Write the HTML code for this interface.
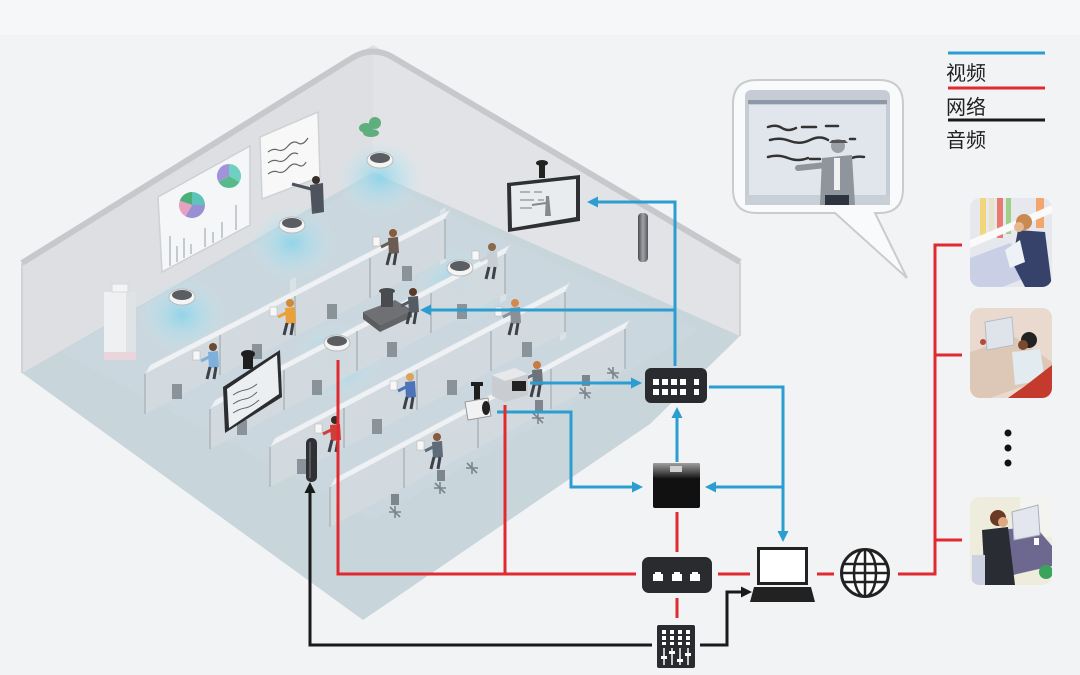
<!DOCTYPE html>
<html><head><meta charset="utf-8">
<style>
html,body{margin:0;padding:0;background:#f2f3f5;}
svg{display:block}
text{font-family:"Liberation Sans","Noto Sans CJK SC",sans-serif;}
</style></head><body>
<svg width="1080" height="675" viewBox="0 0 1080 675" xmlns="http://www.w3.org/2000/svg">
<defs>
 <radialGradient id="glow" cx="50%" cy="50%" r="50%">
  <stop offset="0" stop-color="#7fd3ec" stop-opacity="0.75"/>
  <stop offset="0.55" stop-color="#a8e0f0" stop-opacity="0.4"/>
  <stop offset="1" stop-color="#c5e9f3" stop-opacity="0"/>
 </radialGradient>
 <linearGradient id="nvr" x1="0" y1="0" x2="0" y2="1"><stop offset="0" stop-color="#a0a0a0"/><stop offset="1" stop-color="#1a1a1a"/></linearGradient>
 <linearGradient id="col" x1="0" x2="1"><stop offset="0" stop-color="#4a4c50"/><stop offset="0.5" stop-color="#a0a3a8"/><stop offset="1" stop-color="#55575b"/></linearGradient>
 <clipPath id="c1"><rect x="970" y="198" width="82" height="89" rx="10"/></clipPath>
 <clipPath id="c2"><rect x="970" y="308" width="82" height="90" rx="10"/></clipPath>
 <clipPath id="c3"><rect x="970" y="497" width="82" height="88" rx="10"/></clipPath>
 <clipPath id="cg"><circle cx="865" cy="573" r="23"/></clipPath>
</defs>

<!-- background -->
<rect x="0" y="0" width="1080" height="675" fill="#f2f3f5"/>
<rect x="0" y="0" width="1080" height="35" fill="#f5f7f8"/>

<!-- room walls and floor -->
<polygon points="22,263 373,45 373,172 22,373" fill="#dedfe2"/>
<polygon points="373,45 740,262 740,336 373,172" fill="#e2e3e6"/>
<polygon points="22,373 373,172 740,336 650,424 363,620" fill="#c8d5db"/>
<polygon points="60,352 373,178 700,330 373,520" fill="#cdd9df" opacity="0.6"/>
<path d="M22,263 L352,58 Q373,45 394,58 L740,262" fill="none" stroke="#c6c8cb" stroke-width="6" stroke-linejoin="round"/>
<line x1="22" y1="263" x2="22" y2="373" stroke="#d0d2d5" stroke-width="2"/>
<line x1="740" y1="262" x2="740" y2="336" stroke="#d0d2d5" stroke-width="2"/>

<!-- wall decor: chart panel -->
<polygon points="158,197 250,146 250,225 162,272" fill="#f5f6f8" stroke="#cdd0d4" stroke-width="1.5"/>
<path d="M192,205 L192,192 A13,13 0 0 1 205,205 Z" fill="#5cc4b8"/>
<path d="M192,205 L205,205 A13,13 0 0 1 185.5,216.3 Z" fill="#9b8fd4"/>
<path d="M192,205 L185.5,216.3 A13,13 0 0 1 179.8,200.6 Z" fill="#e8a0c0"/>
<path d="M192,205 L179.8,200.6 A13,13 0 0 1 192,192 Z" fill="#4caf7a"/>
<path d="M229,176 L229,164 A12,12 0 0 1 239.4,182 Z" fill="#6fcfc0"/>
<path d="M229,176 L239.4,182 A12,12 0 0 1 218.6,182 Z" fill="#58b98a"/>
<path d="M229,176 L218.6,182 A12,12 0 0 1 229,164 Z" fill="#a193d9"/>
<g stroke="#b5bcc2" stroke-width="1.5">
 <line x1="170" y1="266" x2="170" y2="236"/><line x1="177" y1="262" x2="177" y2="246"/>
 <line x1="184" y1="258" x2="184" y2="238"/><line x1="191" y1="254" x2="191" y2="244"/>
 <line x1="205" y1="247" x2="205" y2="228"/><line x1="213" y1="243" x2="213" y2="232"/>
 <line x1="222" y1="238" x2="222" y2="222"/><line x1="236" y1="230" x2="236" y2="205"/>
</g>
<!-- whiteboard -->
<polygon points="260,137 318,112 320,177 262,199" fill="#f8f8f9" stroke="#cfd2d5" stroke-width="1.5"/>
<g stroke="#666" stroke-width="1.2" fill="none">
 <path d="M268,152 q5,-4 10,-2 t10,-4 t10,-3 t10,-5"/>
 <path d="M268,163 q5,-4 10,-2 t10,-4 t10,-3"/>
 <path d="M268,174 q5,-4 10,-2 t10,-4 t10,-3 t8,-3"/>
</g>
<!-- teacher -->
<circle cx="316" cy="180" r="4" fill="#3a2e2a"/>
<polygon points="310,185 323,183 324,212 312,214" fill="#4e545e"/>
<line x1="311" y1="189" x2="292" y2="184" stroke="#4e545e" stroke-width="3"/>
<!-- plant -->
<g fill="#5fae7d"><ellipse cx="366" cy="128" rx="7" ry="5"/><ellipse cx="375" cy="123" rx="6" ry="6"/><ellipse cx="371" cy="133" rx="8" ry="4"/></g>
<!-- cabinet -->
<rect x="104" y="292" width="32" height="68" fill="#eef0f2"/>
<rect x="126" y="292" width="10" height="68" fill="#e0e3e6"/>
<rect x="104" y="352" width="32" height="8" fill="#e9d6dc"/>
<rect x="112" y="284" width="16" height="8" fill="#f3f4f6" stroke="#d6d8db"/>

<!-- right wall TV -->
<rect x="539" y="165" width="6" height="13" fill="#222"/>
<ellipse cx="542" cy="163" rx="6" ry="3" fill="#222"/>
<polygon points="507,183 580,175 580,221 508,232" fill="#2f3033"/>
<polygon points="511,186 576,179 576,217 512,228" fill="#e9ecef"/>
<g stroke="#777" stroke-width="1" fill="none"><path d="M520,192 h10 m4,0 h8"/><path d="M520,200 h14 m4,0 h6"/><path d="M520,208 h12"/></g>
<path d="M546,196 l3,0 l2,20 l-6,0 z" fill="#888"/><line x1="546" y1="203" x2="532" y2="205" stroke="#888" stroke-width="2"/>
<!-- speaker column right -->
<rect x="638" y="213" width="10" height="49" rx="4" fill="url(#col)"/>

<!-- glows -->
<ellipse cx="380" cy="178" rx="44" ry="38" fill="url(#glow)"/>
<ellipse cx="292" cy="243" rx="44" ry="38" fill="url(#glow)"/>
<ellipse cx="182" cy="315" rx="44" ry="38" fill="url(#glow)"/>
<ellipse cx="460" cy="286" rx="44" ry="38" fill="url(#glow)"/>
<ellipse cx="337" cy="361" rx="44" ry="38" fill="url(#glow)"/>

<!-- glass partitions -->
<g fill="#e6ecef" opacity="0.55">
 <polygon points="290,280 296,277 296,330 290,333"/>
 <polygon points="440,210 446,207 446,262 440,265"/>
 <polygon points="500,250 506,247 506,300 500,303"/>
 <polygon points="560,288 566,285 566,338 560,341"/>
</g>

<!-- ROW 0 -->
<polygon points="150,365 450,210 445,219 145,374" fill="#eff2f4" stroke="#d6dce0" stroke-width="0.8"/>
<polygon points="145,374 445,219 445,259 145,414" fill="#d3dade" opacity="0.92"/>
<g stroke="#b5bec4" stroke-width="2"><line x1="145" y1="374" x2="145" y2="414"/><line x1="220" y1="335" x2="220" y2="375"/><line x1="295" y1="296" x2="295" y2="336"/><line x1="370" y1="258" x2="370" y2="298"/><line x1="445" y1="219" x2="445" y2="259"/></g>
<g fill="#8a939a"><rect x="172" y="384" width="10" height="15"/><rect x="252" y="344" width="10" height="15"/><rect x="327" y="304" width="10" height="15"/><rect x="402" y="266" width="10" height="15"/></g>
<!-- people row 0 -->
<g transform="translate(215,377)"><circle cx="-2" cy="-30" r="4" fill="#6b4a33"/><path d="M-7,-25 L3,-26 L4,-10 L-6,-9 Z" fill="#7eb0dc"/><path d="M-5,-10 L-8,2 M1,-10 L-1,2" stroke="#3d4249" stroke-width="3"/><line x1="-6" y1="-20" x2="-14" y2="-16" stroke="#7eb0dc" stroke-width="3"/><rect x="-22" y="-26" width="7" height="9" fill="#f7f7f7" stroke="#bbb" stroke-width="0.6"/></g>
<g transform="translate(292,333)"><circle cx="-2" cy="-30" r="4" fill="#d08a3a"/><path d="M-7,-25 L3,-26 L4,-10 L-6,-9 Z" fill="#e9a23b"/><path d="M-5,-10 L-8,2 M1,-10 L-1,2" stroke="#3d4249" stroke-width="3"/><line x1="-6" y1="-20" x2="-14" y2="-16" stroke="#e9a23b" stroke-width="3"/><rect x="-22" y="-26" width="7" height="9" fill="#f7f7f7" stroke="#bbb" stroke-width="0.6"/></g>
<g transform="translate(395,263)"><circle cx="-2" cy="-30" r="4" fill="#8a5a3a"/><path d="M-7,-25 L3,-26 L4,-10 L-6,-9 Z" fill="#6b5b52"/><path d="M-5,-10 L-8,2 M1,-10 L-1,2" stroke="#3d4249" stroke-width="3"/><line x1="-6" y1="-20" x2="-14" y2="-16" stroke="#6b5b52" stroke-width="3"/><rect x="-22" y="-26" width="7" height="9" fill="#f7f7f7" stroke="#bbb" stroke-width="0.6"/></g>

<!-- ROW 1 -->
<polygon points="215,400 510,245 505,254 210,409" fill="#eff2f4" stroke="#d6dce0" stroke-width="0.8"/>
<polygon points="210,409 505,254 505,294 210,449" fill="#d3dade" opacity="0.92"/>
<g stroke="#b5bec4" stroke-width="2"><line x1="210" y1="409" x2="210" y2="449"/><line x1="284" y1="370" x2="284" y2="410"/><line x1="357" y1="331" x2="357" y2="371"/><line x1="431" y1="293" x2="431" y2="333"/><line x1="505" y1="254" x2="505" y2="294"/></g>
<g fill="#8a939a"><rect x="237" y="420" width="10" height="15"/><rect x="312" y="380" width="10" height="15"/><rect x="387" y="342" width="10" height="15"/><rect x="457" y="304" width="10" height="15"/></g>
<!-- dark table -->
<polygon points="363,312 395,300 412,310 380,325" fill="#6e7073"/>
<polygon points="363,312 380,325 380,332 363,319" fill="#5a5c5f"/>
<polygon points="380,325 412,310 412,317 380,332" fill="#626467"/>
<rect x="381" y="291" width="12" height="16" fill="#4a4b4e"/>
<ellipse cx="387" cy="291" rx="8" ry="3" fill="#4a4b4e"/>
<g transform="translate(415,322)"><circle cx="-2" cy="-30" r="4" fill="#5a3a28"/><path d="M-7,-25 L3,-26 L4,-10 L-6,-9 Z" fill="#555b64"/><path d="M-5,-10 L-8,2 M1,-10 L-1,2" stroke="#3d4249" stroke-width="3"/><line x1="-6" y1="-20" x2="-14" y2="-16" stroke="#555b64" stroke-width="3"/></g>
<g transform="translate(494,277)"><circle cx="-2" cy="-30" r="4" fill="#8a6a4a"/><path d="M-7,-25 L3,-26 L4,-10 L-6,-9 Z" fill="#c7ced6"/><path d="M-5,-10 L-8,2 M1,-10 L-1,2" stroke="#3d4249" stroke-width="3"/><line x1="-6" y1="-20" x2="-14" y2="-16" stroke="#c7ced6" stroke-width="3"/><rect x="-22" y="-26" width="7" height="9" fill="#f7f7f7" stroke="#bbb" stroke-width="0.6"/></g>
<!-- TV cart left -->
<rect x="243" y="355" width="10" height="14" fill="#1e1e1e"/>
<ellipse cx="248" cy="354" rx="7" ry="4" fill="#1e1e1e"/>
<polygon points="223,387 280,350 282,397 225,433" fill="#2c2d30"/>
<polygon points="227,389 277,355 279,394 229,428" fill="#eceff1"/>
<g stroke="#666" stroke-width="1" fill="none"><path d="M233,395 q6,-4 12,-5 t12,-6"/><path d="M233,404 q6,-4 12,-5 t12,-7"/><path d="M233,413 q6,-4 12,-5 t14,-8"/></g>

<!-- ROW 2 -->
<polygon points="275,438 570,283 565,292 270,447" fill="#eff2f4" stroke="#d6dce0" stroke-width="0.8"/>
<polygon points="270,447 565,292 565,332 270,487" fill="#d3dade" opacity="0.92"/>
<g stroke="#b5bec4" stroke-width="2"><line x1="270" y1="447" x2="270" y2="487"/><line x1="344" y1="408" x2="344" y2="448"/><line x1="417" y1="370" x2="417" y2="410"/><line x1="491" y1="331" x2="491" y2="371"/><line x1="565" y1="292" x2="565" y2="332"/></g>
<g fill="#8a939a"><rect x="297" y="459" width="10" height="15"/><rect x="372" y="419" width="10" height="15"/><rect x="447" y="380" width="10" height="15"/><rect x="522" y="342" width="10" height="15"/></g>
<g transform="translate(412,407)"><circle cx="-2" cy="-30" r="4" fill="#d9a55b"/><path d="M-7,-25 L3,-26 L4,-10 L-6,-9 Z" fill="#4d74b8"/><path d="M-5,-10 L-8,2 M1,-10 L-1,2" stroke="#3d4249" stroke-width="3"/><line x1="-6" y1="-20" x2="-14" y2="-16" stroke="#4d74b8" stroke-width="3"/><rect x="-22" y="-26" width="7" height="9" fill="#f7f7f7" stroke="#bbb" stroke-width="0.6"/></g>
<g transform="translate(517,333)"><circle cx="-2" cy="-30" r="4" fill="#d48a4a"/><path d="M-7,-25 L3,-26 L4,-10 L-6,-9 Z" fill="#8b8f96"/><path d="M-5,-10 L-8,2 M1,-10 L-1,2" stroke="#3d4249" stroke-width="3"/><line x1="-6" y1="-20" x2="-14" y2="-16" stroke="#8b8f96" stroke-width="3"/><rect x="-22" y="-26" width="7" height="9" fill="#f7f7f7" stroke="#bbb" stroke-width="0.6"/></g>
<g transform="translate(337,450)"><circle cx="-2" cy="-30" r="4" fill="#3a2a24"/><path d="M-7,-25 L3,-26 L4,-10 L-6,-9 Z" fill="#cf3f39"/><path d="M-5,-10 L-8,2 M1,-10 L-1,2" stroke="#3d4249" stroke-width="3"/><line x1="-6" y1="-20" x2="-14" y2="-16" stroke="#cf3f39" stroke-width="3"/><rect x="-22" y="-26" width="7" height="9" fill="#f7f7f7" stroke="#bbb" stroke-width="0.6"/></g>

<!-- ROW 3 -->
<polygon points="335,478 630,320 625,329 330,487" fill="#eff2f4" stroke="#d6dce0" stroke-width="0.8"/>
<polygon points="330,487 625,329 625,369 330,527" fill="#d3dade" opacity="0.92"/>
<g stroke="#b5bec4" stroke-width="2"><line x1="330" y1="487" x2="330" y2="527"/><line x1="404" y1="448" x2="404" y2="488"/><line x1="478" y1="408" x2="478" y2="448"/><line x1="551" y1="369" x2="551" y2="409"/><line x1="625" y1="329" x2="625" y2="369"/></g>
<g transform="translate(439,467)"><circle cx="-2" cy="-30" r="4" fill="#8a5a3a"/><path d="M-7,-25 L3,-26 L4,-10 L-6,-9 Z" fill="#5f6b78"/><path d="M-5,-10 L-8,2 M1,-10 L-1,2" stroke="#3d4249" stroke-width="3"/><line x1="-6" y1="-20" x2="-14" y2="-16" stroke="#5f6b78" stroke-width="3"/><rect x="-22" y="-26" width="7" height="9" fill="#f7f7f7" stroke="#bbb" stroke-width="0.6"/></g>
<g transform="translate(539,395)"><circle cx="-2" cy="-30" r="4" fill="#c77a45"/><path d="M-7,-25 L3,-26 L4,-10 L-6,-9 Z" fill="#6b737c"/><path d="M-5,-10 L-8,2 M1,-10 L-1,2" stroke="#3d4249" stroke-width="3"/><line x1="-6" y1="-20" x2="-14" y2="-16" stroke="#6b737c" stroke-width="3"/></g>
<!-- floor chairs -->
<g stroke="#7c858c" stroke-width="1.6" fill="none">
 <path d="M389,512 l12,0 M395,506 l0,12 M390,507 l10,10"/>
 <path d="M434,488 l12,0 M440,482 l0,12 M435,483 l10,10"/>
 <path d="M466,468 l12,0 M472,462 l0,12 M467,463 l10,10"/>
 <path d="M532,418 l12,0 M538,412 l0,12 M533,413 l10,10"/>
 <path d="M579,393 l12,0 M585,387 l0,12 M580,388 l10,10"/>
 <path d="M607,373 l12,0 M613,367 l0,12 M608,368 l10,10"/>
</g>
<g fill="#7d868d"><rect x="391" y="494" width="8" height="11"/><rect x="437" y="470" width="8" height="11"/><rect x="535" y="400" width="8" height="11"/><rect x="582" y="375" width="8" height="11"/></g>

<!-- projector & camera -->
<polygon points="492,375 515,368 528,374 528,395 505,402 492,396" fill="#c9ccd0"/>
<polygon points="492,375 515,368 528,374 505,381" fill="#e6e8ea"/>
<rect x="512" y="381" width="14" height="10" fill="#222"/>
<path d="M471,382 h12 v4 h-3 v14 h-6 v-14 h-3 z" fill="#1e1e1e"/>
<polygon points="465,402 488,398 491,416 468,420" fill="#f2f2f2" stroke="#999" stroke-width="1"/>
<ellipse cx="486" cy="408" rx="4" ry="7" fill="#222"/>
<!-- black column left -->
<rect x="306" y="438" width="11" height="44" rx="5" fill="#2f3134"/>
<rect x="309" y="442" width="2" height="36" fill="#55585c"/>

<!-- ceiling speakers -->
<g>
 <ellipse cx="380" cy="160" rx="13" ry="8" fill="#f4f4f4" stroke="#bbb"/><ellipse cx="380" cy="158" rx="10" ry="5" fill="#5a5d62"/>
 <ellipse cx="292" cy="225" rx="13" ry="8" fill="#f4f4f4" stroke="#bbb"/><ellipse cx="292" cy="223" rx="10" ry="5" fill="#5a5d62"/>
 <ellipse cx="182" cy="297" rx="13" ry="8" fill="#f4f4f4" stroke="#bbb"/><ellipse cx="182" cy="295" rx="10" ry="5" fill="#5a5d62"/>
 <ellipse cx="460" cy="268" rx="13" ry="8" fill="#f4f4f4" stroke="#bbb"/><ellipse cx="460" cy="266" rx="10" ry="5" fill="#5a5d62"/>
 <ellipse cx="337" cy="343" rx="13" ry="8" fill="#f4f4f4" stroke="#bbb"/><ellipse cx="337" cy="341" rx="10" ry="5" fill="#5a5d62"/>
</g>

<!-- BLUE connectors -->
<g stroke="#2b9dd0" stroke-width="3" fill="none">
 <path d="M675,366 V202 H596"/>
 <path d="M675,310 H429"/>
 <path d="M530,383 H633"/>
 <path d="M709,387 H783 V533"/>
 <path d="M783,487 H714"/>
 <path d="M497,412 H571 V487 H634"/>
 <path d="M677,462 V416"/>
</g>
<g fill="#2b9dd0">
 <polygon points="587,202 598,196.5 598,207.5"/>
 <polygon points="420,310 431,304.5 431,315.5"/>
 <polygon points="642,383 631,377.5 631,388.5"/>
 <polygon points="783,542 777.5,531 788.5,531"/>
 <polygon points="705,487 716,481.5 716,492.5"/>
 <polygon points="643,487 632,481.5 632,492.5"/>
 <polygon points="677,407 671.5,418 682.5,418"/>
</g>

<!-- RED connectors -->
<g stroke="#e02a2f" stroke-width="3" fill="none">
 <path d="M338,360 V574 H636"/>
 <path d="M505,405 V574"/>
 <path d="M677,512 V552"/>
 <path d="M718,574 H750"/>
 <path d="M817,574 H834"/>
 <path d="M898,574 H935 V245 H962"/>
 <path d="M935,355 H962"/>
 <path d="M935,540 H962"/>
 <path d="M677,598 V618"/>
</g>

<!-- BLACK connectors -->
<g stroke="#1a1a1a" stroke-width="3" fill="none">
 <path d="M652,645 H310 V491"/>
 <path d="M700,645 H727 V592 H743"/>
</g>
<g fill="#1a1a1a">
 <polygon points="310,482 304.5,493 315.5,493"/>
 <polygon points="752,592 741,586.5 741,597.5"/>
</g>

<!-- switch -->
<rect x="645" y="368" width="62" height="35" rx="6" fill="#2a2b2e"/>
<g fill="#fff">
 <rect x="653" y="379" width="6" height="6"/><rect x="662" y="379" width="6" height="6"/><rect x="671" y="379" width="6" height="6"/><rect x="680" y="379" width="6" height="6"/><rect x="694" y="379" width="5" height="6"/>
 <rect x="653" y="389" width="6" height="6"/><rect x="662" y="389" width="6" height="6"/><rect x="671" y="389" width="6" height="6"/><rect x="680" y="389" width="6" height="6"/><rect x="694" y="389" width="5" height="6"/>
</g>
<!-- NVR -->
<rect x="653" y="463" width="47" height="45" rx="2" fill="#111"/>
<rect x="653" y="463" width="47" height="15" rx="2" fill="url(#nvr)"/>
<rect x="670" y="466" width="12" height="6" fill="#d0d0d0"/>
<!-- router -->
<rect x="642" y="557" width="70" height="36" rx="7" fill="#2a2b2e"/>
<g fill="#fff">
 <path d="M653,581 V574 H655 V572 H661 V574 H663 V581 Z"/>
 <path d="M672,581 V574 H674 V572 H680 V574 H682 V581 Z"/>
 <path d="M690,581 V574 H692 V572 H698 V574 H700 V581 Z"/>
</g>
<!-- laptop -->
<rect x="758.5" y="548.5" width="48" height="35" fill="#fff" stroke="#222" stroke-width="3"/>
<path d="M754,587 H811 L815,602 H750 Z" fill="#222"/>
<!-- globe -->
<circle cx="865" cy="573" r="23.5" fill="#fff" stroke="#222" stroke-width="3"/>
<g clip-path="url(#cg)" stroke="#222" stroke-width="2.5" fill="none">
 <ellipse cx="865" cy="573" rx="11" ry="23.5"/>
 <line x1="865" y1="548" x2="865" y2="598"/>
 <line x1="840" y1="573" x2="890" y2="573"/>
 <line x1="840" y1="564" x2="890" y2="564"/>
 <line x1="840" y1="582" x2="890" y2="582"/>
</g>
<!-- mixer -->
<rect x="657" y="625" width="38" height="43" rx="2" fill="#2a2b2e"/>
<g fill="#fff">
 <rect x="662" y="630" width="4" height="4"/><rect x="670" y="630" width="4" height="4"/><rect x="678" y="630" width="4" height="4"/><rect x="686" y="630" width="4" height="4"/>
 <rect x="662" y="636" width="4" height="4"/><rect x="670" y="636" width="4" height="4"/><rect x="678" y="636" width="4" height="4"/><rect x="686" y="636" width="4" height="4"/>
 <rect x="662" y="642" width="4" height="3"/><rect x="670" y="642" width="4" height="3"/><rect x="678" y="642" width="4" height="3"/><rect x="686" y="642" width="4" height="3"/>
</g>
<g stroke="#fff" stroke-width="1.5"><line x1="664" y1="648" x2="664" y2="665"/><line x1="672" y1="648" x2="672" y2="665"/><line x1="680" y1="648" x2="680" y2="665"/><line x1="688" y1="648" x2="688" y2="665"/></g>
<g fill="#fff"><rect x="661" y="656" width="6" height="3"/><rect x="669" y="651" width="6" height="3"/><rect x="677" y="659" width="6" height="3"/><rect x="685" y="653" width="6" height="3"/></g>

<!-- speech bubble -->
<path d="M757,80 H879 Q903,80 903,104 V189 Q903,213 879,213 H875 L907,278 L835,213 H757 Q733,213 733,189 V104 Q733,80 757,80 Z" fill="#f9fafb" stroke="#c9cbce" stroke-width="2"/>
<rect x="745" y="90" width="145" height="115" rx="6" fill="#c5ccd4"/>
<rect x="748" y="100" width="139" height="4" fill="#8d99a8"/>
<rect x="749" y="105" width="137" height="90" fill="#e1e6ec"/>
<rect x="745" y="195" width="145" height="10" fill="#c9cfd6"/>
<g stroke="#333" stroke-width="2.5" fill="none" stroke-linecap="round">
 <path d="M768,127 q8,-3 14,1 t14,0 M802,127 h14 M826,126 h12"/>
 <path d="M770,140 q10,-3 20,1 t20,-1 t18,0 M850,139 h5"/>
 <path d="M768,157 q10,-3 20,1 t20,0 M810,159 h10 M852,158 q5,-2 12,-1"/>
</g>
<line x1="826" y1="165" x2="798" y2="168" stroke="#8f959c" stroke-width="6" stroke-linecap="round"/>
<polygon points="822,158 852,155 855,205 820,205" fill="#8f959c"/>
<rect x="834" y="158" width="6" height="32" fill="#f2f2f2"/>
<rect x="825" y="195" width="24" height="10" fill="#2e3340"/>
<circle cx="838" cy="146" r="7" fill="#9aa0a6"/>
<path d="M829,143 h19 l-3,-3 h-13 z" fill="#555"/>

<!-- legend -->
<line x1="948" y1="53" x2="1045" y2="53" stroke="#2b9dd0" stroke-width="3"/>
<text x="946" y="80" font-size="20" fill="#222">视频</text>
<line x1="948" y1="88" x2="1045" y2="88" stroke="#e02a2f" stroke-width="3"/>
<text x="946" y="114" font-size="20" fill="#222">网络</text>
<line x1="948" y1="120" x2="1045" y2="120" stroke="#1a1a1a" stroke-width="3"/>
<text x="946" y="147" font-size="20" fill="#222">音频</text>

<!-- thumbnail 1 -->
<g clip-path="url(#c1)">
 <rect x="970" y="198" width="82" height="89" fill="#e6e8ee"/>
 <rect x="980" y="198" width="6" height="42" fill="#f1d77a"/>
 <rect x="989" y="198" width="5" height="40" fill="#e8e3c8"/>
 <rect x="997" y="198" width="6" height="40" fill="#e87a6f"/>
 <rect x="1006" y="198" width="5" height="36" fill="#9fd08a"/>
 <rect x="1036" y="198" width="8" height="30" fill="#f2a66e"/>
 <polygon points="970,240 1052,205 1052,213 970,248" fill="#fafafa"/>
 <polygon points="970,258 1010,243 1040,272 995,290 970,290" fill="#c9cfe4"/>
 <polygon points="1018,230 1045,232 1052,287 1025,287 1012,262" fill="#37426b"/>
 <circle cx="1024" cy="222" r="8" fill="#c98a52"/>
 <circle cx="1019" cy="227" r="5" fill="#e8b890"/>
 <polygon points="1005,250 1020,240 1025,262 1010,268" fill="#eef1f6"/>
</g>
<!-- thumbnail 2 -->
<g clip-path="url(#c2)">
 <rect x="970" y="308" width="82" height="90" fill="#ead9ce"/>
 <polygon points="970,352 1015,337 1052,362 1052,376 990,398 970,398" fill="#ddc8b8"/>
 <polygon points="985,322 1012,317 1014,345 987,350" fill="#dfe4ea" stroke="#b5bcc5"/>
 <circle cx="983" cy="342" r="3" fill="#b24a40"/>
 <polygon points="1012,352 1040,349 1045,380 1015,385" fill="#e1ebf0"/>
 <circle cx="1029" cy="340" r="8" fill="#222"/>
 <circle cx="1023" cy="345" r="5" fill="#7a4a30"/>
 <polygon points="1025,386 1052,365 1052,398 1008,398" fill="#c43a2c"/>
</g>
<!-- dots -->
<circle cx="1008" cy="433" r="3.5" fill="#111"/>
<circle cx="1008" cy="448" r="3.5" fill="#111"/>
<circle cx="1008" cy="463" r="3.5" fill="#111"/>
<!-- thumbnail 3 -->
<g clip-path="url(#c3)">
 <rect x="970" y="497" width="82" height="88" fill="#eeecdc"/>
 <rect x="1020" y="497" width="32" height="40" fill="#f3f3ef"/>
 <polygon points="985,532 1035,526 1052,546 1052,566 1000,578" fill="#6c6890"/>
 <polygon points="1012,512 1038,505 1040,535 1014,540" fill="#e3e6ee" stroke="#aab0bb"/>
 <rect x="1034" y="538" width="5" height="7" fill="#fff"/>
 <polygon points="982,530 1008,527 1015,585 985,585" fill="#2a2c33"/>
 <circle cx="998" cy="518" r="8" fill="#6a3a24"/>
 <circle cx="1003" cy="522" r="5" fill="#e0a882"/>
 <rect x="972" y="555" width="13" height="30" fill="#ccd2e2"/>
 <circle cx="1046" cy="572" r="7" fill="#3aa35c"/>
</g>
</svg>
</body></html>
